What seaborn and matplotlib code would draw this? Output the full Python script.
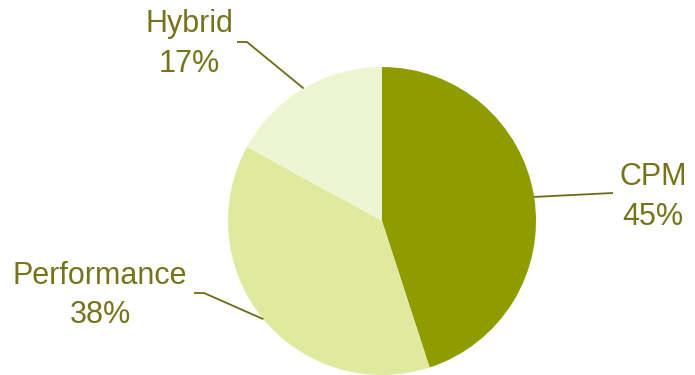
import numpy as np
import matplotlib
matplotlib.use("Agg")
import matplotlib.pyplot as plt
import seaborn as sns

# Revenue model split
categories = ["CPM", "Performance", "Hybrid"]
shares = [45, 38, 17]
slice_colors = ["#8E9C00", "#DFEA9F", "#EEF5D2"]
text_color = "#76741B"
line_color = "#6E6A14"

sns.set_theme(style="white")
plt.rcParams["font.family"] = ["Liberation Sans", "DejaVu Sans"]

W, H = 695, 375
fig = plt.figure(figsize=(W / 100, H / 100), dpi=100)
ax = fig.add_axes([0, 0, 1, 1])
ax.set_xlim(0, W)
ax.set_ylim(0, H)
ax.set_aspect("equal")
ax.axis("off")

cx, cy, r = 382, H - 221, 154
palette = sns.color_palette(slice_colors)
wedges, _ = ax.pie(shares, colors=palette, startangle=90, counterclock=False,
                   center=(cx, cy), radius=r, frame=True,
                   wedgeprops=dict(linewidth=0))
ax.set_xlim(0, W)
ax.set_ylim(0, H)
ax.axis("off")

# label layout: (text centre x, name baseline y, value baseline y, elbow points)
layout = {
    "CPM": (653, 185, 225, [(613, 193)]),
    "Performance": (100, 284, 323, [(204, 293), (194, 293)]),
    "Hybrid": (189, 32, 72, [(247, 42), (237, 42)]),
}

for w, name, val in zip(wedges, categories, shares):
    mid = np.deg2rad((w.theta1 + w.theta2) / 2)
    x0 = cx + r * np.cos(mid)
    y0 = cy + r * np.sin(mid)
    tx, nb, vb, elbows = layout[name]
    xs = [x0] + [p[0] for p in elbows]
    ys = [y0] + [H - p[1] for p in elbows]
    ax.plot(xs, ys, color=line_color, lw=1.3, solid_capstyle="butt")
    ax.text(tx, H - nb, name, ha="center", va="baseline", fontsize=22,
            color=text_color)
    ax.text(tx, H - vb, f"{val}%", ha="center", va="baseline", fontsize=22,
            color=text_color)

fig.savefig("out.png", dpi=100, facecolor="white")
